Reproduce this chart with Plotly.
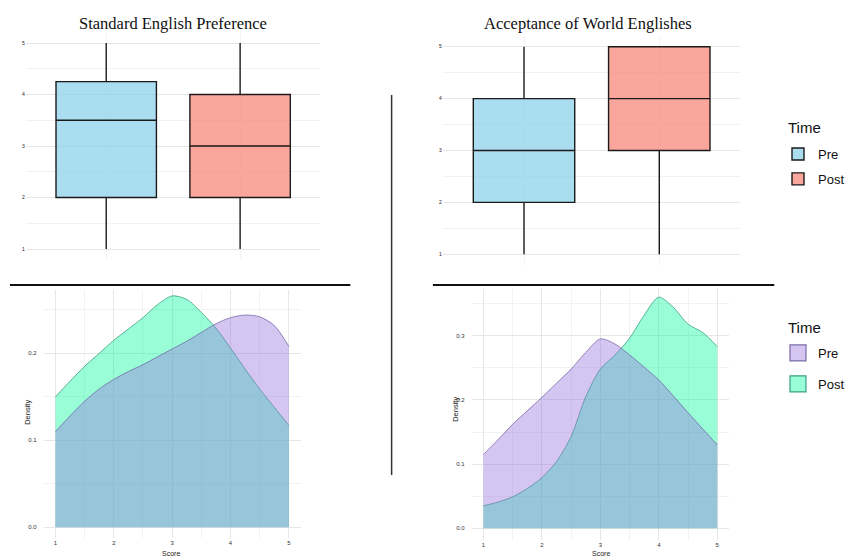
import plotly.graph_objects as go

# ---- Box plot summaries (Likert scores 1-5) ----
groups = ["Pre", "Post"]

se_lower = [1, 1]
se_q1 = [2, 2]
se_median = [3.5, 3]
se_q3 = [4.25, 4]
se_upper = [5, 5]

we_lower = [1, 1]
we_q1 = [2, 3]
we_median = [3, 4]
we_q3 = [4, 5]
we_upper = [5, 5]

# ---- Kernel density estimates of Score ----
score = [1.0, 1.25, 1.5, 1.75, 2.0, 2.25, 2.5, 2.75, 3.0,
         3.25, 3.5, 3.75, 4.0, 4.25, 4.5, 4.75, 5.0]

se_pre_density = [0.110, 0.128, 0.145, 0.159, 0.170, 0.179, 0.187, 0.196, 0.205,
                  0.214, 0.224, 0.234, 0.241, 0.244, 0.242, 0.232, 0.208]
se_post_density = [0.150, 0.168, 0.185, 0.200, 0.215, 0.228, 0.241, 0.256, 0.266,
                   0.262, 0.247, 0.229, 0.206, 0.182, 0.159, 0.138, 0.117]

we_pre_density = [0.115, 0.138, 0.162, 0.183, 0.204, 0.226, 0.248, 0.274, 0.295,
                  0.287, 0.270, 0.251, 0.231, 0.206, 0.180, 0.155, 0.130]
we_post_density = [0.035, 0.041, 0.049, 0.062, 0.079, 0.104, 0.143, 0.205, 0.248,
                   0.270, 0.296, 0.332, 0.360, 0.344, 0.318, 0.305, 0.283]

# ---- Styling ----
W, H = 850, 557
# horizontal span used when converting pixel positions to paper fractions
SPAN_X = 833
BOX_FILL = {"Pre": "rgba(135,206,235,0.7)", "Post": "rgba(250,128,114,0.7)"}
DENS_FILL = {"Pre": "rgba(147,112,219,0.4)", "Post": "rgba(0,250,154,0.4)"}
DENS_LINE = {"Pre": "rgba(110,95,160,0.9)", "Post": "rgba(40,150,120,0.9)"}
SANS = "Liberation Sans"
SERIF = "Liberation Serif"
GRID = "#e6e6e6"
GRID_MINOR = "#f2f2f2"


def px_x(p):
    return p / SPAN_X


def px_y(p):
    return 1 - p / H


fig = go.Figure()

# Box plots: top-left (xaxis/yaxis), top-right (xaxis2/yaxis2)
for i, g in enumerate(groups):
    fig.add_trace(go.Box(
        x=[g], q1=[se_q1[i]], median=[se_median[i]], q3=[se_q3[i]],
        lowerfence=[se_lower[i]], upperfence=[se_upper[i]],
        fillcolor=BOX_FILL[g], line=dict(color="#1a1a1a", width=1.4),
        whiskerwidth=0, width=0.75, name=g, legendgroup="box" + g,
        showlegend=False, xaxis="x", yaxis="y", hoverinfo="skip",
    ))
for i, g in enumerate(groups):
    fig.add_trace(go.Box(
        x=[g], q1=[we_q1[i]], median=[we_median[i]], q3=[we_q3[i]],
        lowerfence=[we_lower[i]], upperfence=[we_upper[i]],
        fillcolor=BOX_FILL[g], line=dict(color="#1a1a1a", width=1.4),
        whiskerwidth=0, width=0.75, name=g, legendgroup="box" + g,
        showlegend=True, legend="legend", xaxis="x2", yaxis="y2",
        hoverinfo="skip",
    ))

# Density curves: bottom-left (x3/y3), bottom-right (x4/y4); Post under Pre
dens_sets = [("x3", "y3", se_pre_density, se_post_density),
             ("x4", "y4", we_pre_density, we_post_density)]
for xa, ya, pre_d, post_d in dens_sets:
    for g, d in (("Post", post_d), ("Pre", pre_d)):
        fig.add_trace(go.Scatter(
            x=score, y=d, mode="lines", fill="tozeroy",
            fillcolor=DENS_FILL[g],
            line=dict(color=DENS_LINE[g], width=0.8, shape="spline", smoothing=0.8),
            showlegend=False, xaxis=xa, yaxis=ya, hoverinfo="skip",
        ))

# Legend keys for the density panels
for g in groups:
    fig.add_trace(go.Scatter(
        x=[None], y=[None], mode="markers", name=g,
        marker=dict(symbol="square", size=16, color=DENS_FILL[g],
                    line=dict(color=DENS_LINE[g], width=1.2)),
        legend="legend2", legendgroup="dens" + g, xaxis="x4", yaxis="y4",
    ))

box_y = dict(
    range=[0.8, 5.2], tickvals=[1, 2, 3, 4, 5], showgrid=True, gridcolor=GRID,
    gridwidth=1, zeroline=False, showline=False, ticks="",
    tickfont=dict(family=SANS, size=5, color="#222222"),
    minor=dict(dtick=0.5, tick0=0, showgrid=True, gridcolor=GRID_MINOR, gridwidth=1),
)
box_x = dict(
    type="category", categoryorder="array", categoryarray=groups,
    range=[-0.6, 1.6], showgrid=True, gridcolor="#f3f3f3", showticklabels=False,
    zeroline=False, showline=False, ticks="",
)

dens_common_x = dict(
    range=[0.8, 5.2], tickvals=[1, 2, 3, 4, 5], showgrid=True, gridcolor=GRID,
    zeroline=False, showline=False, ticks="",
    tickfont=dict(family=SANS, size=6, color="#333333"),
    minor=dict(dtick=0.5, tick0=0, showgrid=True, gridcolor=GRID_MINOR),
)
dens_common_y = dict(
    showgrid=True, gridcolor=GRID, zeroline=False, showline=False,
    ticks="outside", ticklen=5, tickcolor="rgba(0,0,0,0)",
    tickfont=dict(family=SANS, size=6, color="#333333"),
    tickformat=".1f",
)

legend_common = dict(
    xanchor="left", yanchor="top",
    font=dict(family=SANS, size=13, color="#111111"),
    bgcolor="rgba(0,0,0,0)", traceorder="grouped",
)

fig.update_layout(
    width=W, height=H, autosize=False, margin=dict(l=0, r=0, t=0, b=0),
    paper_bgcolor="white", plot_bgcolor="white",
    font=dict(family=SANS),
    boxmode="overlay",
    xaxis=dict(box_x, domain=[px_x(26), px_x(322)], anchor="y"),
    yaxis=dict(box_y, domain=[px_y(259.3), px_y(32.7)], anchor="x"),
    xaxis2=dict(box_x, domain=[px_x(445), px_x(744)], anchor="y2"),
    yaxis2=dict(box_y, domain=[px_y(264.7), px_y(36.3)], anchor="x2"),
    xaxis3=dict(dens_common_x, domain=[px_x(44), px_x(302)], anchor="y3"),
    yaxis3=dict(dens_common_y, domain=[px_y(537.7), px_y(290)], anchor="x3",
                range=[-0.012, 0.2728], tickvals=[0, 0.1, 0.2],
                minor=dict(tickvals=[0.05, 0.15, 0.25], showgrid=True,
                           gridcolor=GRID_MINOR)),
    xaxis4=dict(dens_common_x, domain=[px_x(474), px_x(732.5)], anchor="y4"),
    yaxis4=dict(dens_common_y, domain=[px_y(539.9), px_y(289)], anchor="x4",
                range=[-0.018, 0.3727], tickvals=[0, 0.1, 0.2, 0.3],
                minor=dict(tickvals=[0.05, 0.15, 0.25, 0.35], showgrid=True,
                           gridcolor=GRID_MINOR)),
    legend=dict(legend_common, x=px_x(782), y=px_y(139), tracegroupgap=5),
    legend2=dict(legend_common, x=px_x(782), y=px_y(338), tracegroupgap=11,
                 itemsizing="trace"),
)

# Panel titles
fig.add_annotation(text="Standard English Preference", x=px_x(174), y=px_y(24),
                   xref="paper", yref="paper", xanchor="center", yanchor="middle",
                   showarrow=False,
                   font=dict(family=SERIF, size=16.5, color="#111111"))
fig.add_annotation(text="Acceptance of World Englishes", x=px_x(591), y=px_y(24),
                   xref="paper", yref="paper", xanchor="center", yanchor="middle",
                   showarrow=False,
                   font=dict(family=SERIF, size=16.5, color="#111111"))

# Legend headings
for ly in (127, 327):
    fig.add_annotation(text="Time", x=px_x(790), y=px_y(ly), xref="paper",
                       yref="paper", xanchor="left", yanchor="middle",
                       showarrow=False,
                       font=dict(family=SANS, size=15, color="#111111"))

# Axis titles of the density panels
for ax, ay in ((27, 412), (457, 409)):
    fig.add_annotation(text="Density", x=px_x(ax), y=px_y(ay), xref="paper",
                       yref="paper", xanchor="center", yanchor="middle",
                       textangle=-90, showarrow=False,
                       font=dict(family=SANS, size=7.5, color="#222222"))
for ax in (172, 604):
    fig.add_annotation(text="Score", x=px_x(ax), y=px_y(553.5), xref="paper",
                       yref="paper", xanchor="center", yanchor="middle",
                       showarrow=False,
                       font=dict(family=SANS, size=7, color="#222222"))

# Divider rules between panels
divider = dict(color="#111111", width=1.8)
fig.add_shape(type="line", xref="paper", yref="paper",
              x0=px_x(10), x1=px_x(352), y0=px_y(285), y1=px_y(285), line=divider)
fig.add_shape(type="line", xref="paper", yref="paper",
              x0=px_x(435), x1=px_x(778), y0=px_y(285), y1=px_y(285), line=divider)
fig.add_shape(type="line", xref="paper", yref="paper",
              x0=px_x(393.5), x1=px_x(393.5), y0=px_y(95), y1=px_y(475),
              line=dict(color="#333333", width=1.5))

fig.write_html("out.html")
